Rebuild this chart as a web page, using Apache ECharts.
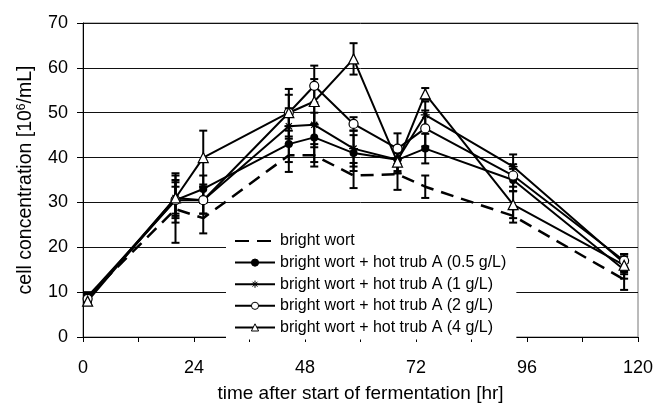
<!DOCTYPE html>
<html>
<head>
<meta charset="utf-8">
<script src="https://cdn.jsdelivr.net/npm/echarts@6/dist/echarts.min.js"></script>
<style>
html,body{margin:0;padding:0;background:#fff;}
#chart{width:655px;height:404px;}
</style>
</head>
<body>
<div id="chart"></div>
<script>
// Sampling times [hr]
const times = [1, 20, 26, 44.5, 50, 58.5, 68, 74, 93, 117];

// Series names
const seriesNames = [
  'bright wort',
  'bright wort + hot trub A (0.5 g/L)',
  'bright wort + hot trub A (1 g/L)',
  'bright wort + hot trub A (2 g/L)',
  'bright wort + hot trub A (4 g/L)'
];

// Cell concentration [10^6/mL]
const brightWort = [9, 28.5, 26.5, 40.5, 40.5, 36, 36.3, 33.5, 27, 12.8];
const trub05 = [9, 30.5, 33, 43, 44.5, 41, 39.5, 42, 35, 15];
const trub1 = [8.5, 31, 30.5, 47, 47.3, 42, 39.5, 49.5, 38, 16.5];
const trub2 = [8.5, 30.5, 30.5, 50, 56, 47.5, 42, 46.5, 36, 17];
const trub4 = [8, 31, 40, 50, 52.5, 62, 39, 54.2, 29.5, 16];

// Error (± standard deviation)
const errBright = [1, 7.5, 3.4, 3.7, 2.5, 2.8, 3.5, 2.5, 1.5, 2.3];
const err05 = [0.8, 3, 3, 4, 5.5, 4, 3, 3.3, 2.5, 2];
const err1 = [0.8, 4, 3, 4, 5, 4, 3, 3, 2.7, 2];
const err2 = [0.8, 4, 3, 4, 4.5, 1.5, 3.4, 4, 2.5, 1.5];
const err4 = [0.8, 5.5, 6, 5.3, 5, 3.5, 2, 1.3, 3, 2];

// Axis ticks
const xTickLabels = [0, 24, 48, 72, 96, 120];
const yTicks = [0, 10, 20, 30, 40, 50, 60, 70];

const FONT = 'Liberation Sans, Arial, Helvetica, sans-serif';
const values = [brightWort, trub05, trub1, trub2, trub4];
const errors = [errBright, err05, err1, err2, err4];

const asterisk = 'path://M0,5L10,5M5,0L5,10M1.6,1.6L8.4,8.4M8.4,1.6L1.6,8.4';
const symbolDefs = [
  {symbol: 'none', size: 0, fill: '#000'},
  {symbol: 'circle', size: 8, fill: '#000'},
  {symbol: asterisk, size: 9, fill: '#000'},
  {symbol: 'circle', size: 9, fill: '#fff'},
  {symbol: 'triangle', size: 10, fill: '#fff'}
];

function errRender(params, api) {
  const x = api.value(0), v = api.value(1), e = api.value(2);
  const top = api.coord([x, v + e]);
  const bot = api.coord([x, v - e]);
  const w = 4;
  const st = {stroke: '#000', lineWidth: 2};
  return {
    type: 'group',
    children: [
      {type: 'line', shape: {x1: top[0], y1: top[1], x2: bot[0], y2: bot[1]}, style: st},
      {type: 'line', shape: {x1: top[0] - w, y1: top[1], x2: top[0] + w, y2: top[1]}, style: st},
      {type: 'line', shape: {x1: bot[0] - w, y1: bot[1], x2: bot[0] + w, y2: bot[1]}, style: st}
    ]
  };
}

const series = [];
values.forEach((vals, i) => {
  series.push({
    name: 'err' + i,
    type: 'custom',
    renderItem: errRender,
    data: times.map((t, k) => [t, vals[k], errors[i][k]]),
    encode: {x: 0, y: 1},
    z: 1,
    silent: true
  });
});
values.forEach((vals, i) => {
  const s = symbolDefs[i];
  series.push({
    name: seriesNames[i],
    type: 'line',
    data: times.map((t, k) => [t, vals[k]]),
    symbol: s.symbol,
    symbolSize: s.size,
    showSymbol: s.symbol !== 'none',
    lineStyle: i === 0 ? {color: '#000', width: 2.5, type: [13, 8]} : {color: '#000', width: 2},
    itemStyle: {color: s.fill, borderColor: '#000', borderWidth: i === 1 ? 0 : 1.2},
    z: 3
  });
});

const legendData = seriesNames.map((n, i) => {
  const s = symbolDefs[i];
  if (i === 0) {
    return {
      name: n,
      itemStyle: {opacity: 0},
      lineStyle: {color: '#000', width: 2, type: [14, 8]}
    };
  }
  return {
    name: n,
    itemStyle: {color: s.fill, borderColor: '#000', borderWidth: 1},
    lineStyle: {color: '#000', width: 2, type: 'solid'}
  };
});

const chart = echarts.init(document.getElementById('chart'), null, {renderer: 'canvas'});
chart.setOption({
  animation: false,
  backgroundColor: '#fff',
  textStyle: {fontFamily: FONT, color: '#000'},
  grid: {
    left: 83, right: 17, top: 23, bottom: 67,
    show: true, borderColor: '#777', borderWidth: 1,
    containLabel: false, outerBoundsMode: 'none'
  },
  legend: {
    data: legendData,
    orient: 'vertical',
    left: 226,
    top: 228,
    padding: [5, 10, 4, 8],
    backgroundColor: '#fff',
    itemWidth: 40,
    itemHeight: 9,
    itemGap: 5.6,
    textStyle: {fontFamily: FONT, fontSize: 16, color: '#000'},
    selectedMode: false
  },
  xAxis: {
    type: 'value',
    min: 0,
    max: 120,
    interval: 12,
    name: 'time after start of fermentation [hr]',
    nameLocation: 'middle',
    nameGap: 47,
    nameTextStyle: {fontFamily: FONT, fontSize: 19, color: '#000'},
    axisLine: {show: true, onZero: false, lineStyle: {color: '#000', width: 1}},
    axisTick: {show: true, length: 5, lineStyle: {color: '#000'}},
    axisLabel: {
      fontFamily: FONT, fontSize: 18, color: '#000', margin: 22,
      formatter: v => xTickLabels.indexOf(v) >= 0 ? String(v) : ''
    },
    splitLine: {show: false}
  },
  yAxis: {
    type: 'value',
    min: yTicks[0],
    max: yTicks[yTicks.length - 1],
    interval: 10,
    name: '{a|cell concentration [10}{s|6}{a|/mL]}',
    nameLocation: 'middle',
    nameRotate: 90,
    nameGap: 47,
    nameTextStyle: {
      rich: {
        a: {fontFamily: FONT, fontSize: 19.5, color: '#000'},
        s: {fontFamily: FONT, fontSize: 12, color: '#000', verticalAlign: 'top', padding: [0, 0, 8, 0]}
      }
    },
    axisLine: {show: true, lineStyle: {color: '#000', width: 1}},
    axisTick: {show: true, length: 6, lineStyle: {color: '#000'}},
    axisLabel: {fontFamily: FONT, fontSize: 18, color: '#000', margin: 15},
    splitLine: {show: true, lineStyle: {color: '#111', width: 1}}
  },
  series: series
});
</script>
</body>
</html>
